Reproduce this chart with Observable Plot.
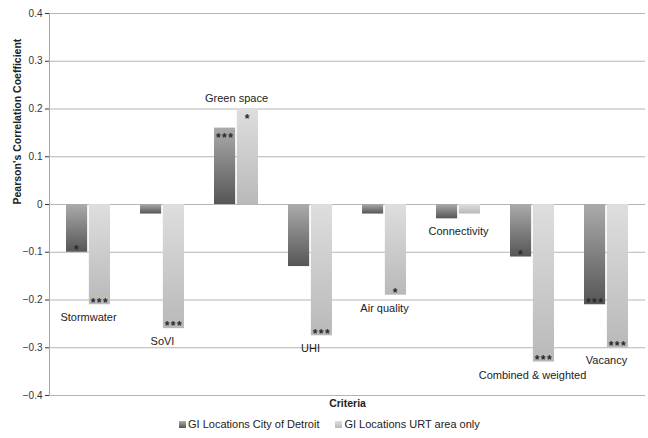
<!DOCTYPE html>
<html>
<head>
<meta charset="utf-8">
<script src="https://cdn.jsdelivr.net/npm/d3@7"></script>
<script src="https://cdn.jsdelivr.net/npm/@observablehq/plot@0.6"></script>
<style>
  body { margin: 0; background: #fff; font-family: "Liberation Sans", Arial, sans-serif; }
  #chart svg { display: block; }
  .legend { display: flex; gap: 16px; padding-left: 179px; height: 28px; align-items: center; font-size: 11px; color: #222; }
  .legend span.item { display: flex; align-items: center; }
  .legend .sw { width: 7px; height: 7px; margin-right: 2px; display: inline-block; }
</style>
</head>
<body>
<div id="chart"></div>
<script>
const categories = ["Stormwater", "SoVI", "Green space", "UHI", "Air quality", "Connectivity", "Combined & weighted", "Vacancy"];
const detroit = [-0.10, -0.02, 0.16, -0.13, -0.02, -0.03, -0.11, -0.21];
const urt = [-0.21, -0.26, 0.20, -0.275, -0.19, -0.02, -0.33, -0.30];
const detroitSig = ["*", "", "***", "", "", "", "*", "***"];
const urtSig = ["***", "***", "*", "***", "*", "", "***", "***"];
const yTicks = [0.4, 0.3, 0.2, 0.1, 0, -0.1, -0.2, -0.3, -0.4];
const seriesNames = ["GI Locations City of Detroit", "GI Locations URT area only"];

const W = 648, H = 410;
const mL = 49, mR = 3, mT = 13, mB = 15;
const step = (W - mL - mR) / categories.length;
const half = step * 0.6 / 2;

const dDet = categories.map((c, i) => ({cat: c, v: detroit[i], sig: detroitSig[i]}));
const dUrt = categories.map((c, i) => ({cat: c, v: urt[i], sig: urtSig[i]}));
const labels = categories.map((c, i) => {
  const lo = Math.min(detroit[i], urt[i]), hi = Math.max(detroit[i], urt[i]);
  return {cat: c, v: lo < 0 ? lo : hi, neg: lo < 0};
});

const font = "Liberation Sans, Arial, sans-serif";
const starStyle = {fontSize: 12, fill: "#2a2a2a", lineAnchor: "middle", fontWeight: "bold"};

const plot = Plot.plot({
  width: W, height: H,
  marginLeft: mL, marginRight: mR, marginTop: mT, marginBottom: mB,
  style: {fontFamily: font, fontSize: "10px", color: "#333", background: "#fff"},
  x: {domain: categories, paddingInner: 0.4, paddingOuter: 0.2, axis: null},
  y: {domain: [-0.4, 0.4], ticks: yTicks, tickSize: 4, tickPadding: 3,
      tickFormat: d => d === 0 ? "0" : d3.format(".1f")(d), label: null},
  marks: [
    Plot.ruleY(yTicks, {stroke: "#b5b5b5", strokeWidth: 1}),
    Plot.barY(dDet, {x: "cat", y: "v", fill: "url(#gDark)", insetRight: half + 0.5}),
    Plot.barY(dUrt, {x: "cat", y: "v", fill: "url(#gLight)", insetLeft: half + 0.5}),
    Plot.text(dDet.filter(d => d.v < 0), {x: "cat", y: "v", text: "sig", dx: -half / 2 - 0.2, dy: -2, ...starStyle}),
    Plot.text(dDet.filter(d => d.v >= 0), {x: "cat", y: "v", text: "sig", dx: -half / 2 - 0.2, dy: 10, ...starStyle}),
    Plot.text(dUrt.filter(d => d.v < 0), {x: "cat", y: "v", text: "sig", dx: half / 2 + 0.2, dy: -2, ...starStyle}),
    Plot.text(dUrt.filter(d => d.v >= 0), {x: "cat", y: "v", text: "sig", dx: half / 2 + 0.2, dy: 10, ...starStyle}),
    Plot.text(labels.filter(d => d.neg), {x: "cat", y: "v", text: "cat", dy: 13, fontSize: 11, fill: "#222", lineAnchor: "middle"}),
    Plot.text(labels.filter(d => !d.neg), {x: "cat", y: "v", text: "cat", dy: -11, fontSize: 11, fill: "#222", lineAnchor: "middle"}),
    Plot.text(["Pearson's Correlation Coefficient"], {frameAnchor: "left", rotate: -90, dx: -32, fontSize: 10.5, fontWeight: "bold", fill: "#222"}),
    Plot.text(["Criteria"], {frameAnchor: "bottom", dy: 8, fontSize: 10.5, fontWeight: "bold", fill: "#222", lineAnchor: "middle"})
  ]
});

// gradients
const svg = d3.select(plot);
const defs = svg.insert("defs", ":first-child");
const g1 = defs.append("linearGradient").attr("id", "gDark").attr("x1", 0).attr("y1", 0).attr("x2", 0).attr("y2", 1);
g1.append("stop").attr("offset", "0%").attr("stop-color", "#ababab");
g1.append("stop").attr("offset", "100%").attr("stop-color", "#565656");
const g2 = defs.append("linearGradient").attr("id", "gLight").attr("x1", 0).attr("y1", 0).attr("x2", 0).attr("y2", 1);
g2.append("stop").attr("offset", "0%").attr("stop-color", "#dedede");
g2.append("stop").attr("offset", "100%").attr("stop-color", "#b9b9b9");

// spaced-out significance stars
svg.selectAll("text").filter(function() { return /^\*+$/.test(this.textContent); })
  .style("letter-spacing", "1.5px");

// y axis line through the library's scale
const ys = plot.scale("y");
svg.append("line")
  .attr("x1", mL + 0.5).attr("x2", mL + 0.5)
  .attr("y1", ys.apply(0.4)).attr("y2", ys.apply(-0.4))
  .attr("stroke", "#a8a8a8");

document.getElementById("chart").appendChild(plot);

const legend = document.createElement("div");
legend.className = "legend";
legend.innerHTML = `<span class="item"><span class="sw" style="background:linear-gradient(#ababab,#565656)"></span>${seriesNames[0]}</span>` +
  `<span class="item"><span class="sw" style="background:linear-gradient(#dedede,#b9b9b9)"></span>${seriesNames[1]}</span>`;
document.body.appendChild(legend);
</script>
</body>
</html>
